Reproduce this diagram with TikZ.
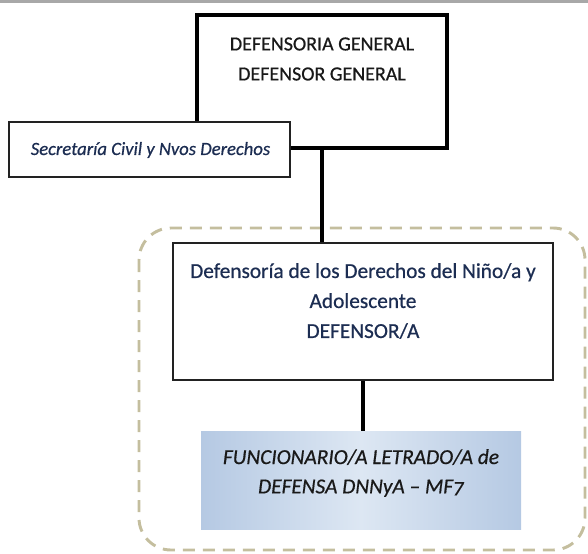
\documentclass[tikz,border=0pt]{standalone}
\usepackage{fontspec}
\setmainfont{Carlito}[FakeBold=0.6]
\definecolor{navy}{HTML}{1C2D52}
\definecolor{dashc}{HTML}{C4BE9E}
\definecolor{blueD}{HTML}{B5C9E3}
\definecolor{blueL}{HTML}{DDE7F3}
\definecolor{topline}{HTML}{A8A8A8}
\definecolor{edge}{HTML}{222222}
\begin{document}
\begin{tikzpicture}[x=0.75pt,y=-0.75pt,
  box/.style={draw=edge,fill=white,inner sep=0pt},
  txt/.style={align=center,inner sep=0pt},
  conn/.style={line width=2.4pt,black}]
\useasboundingbox (0,0) rectangle (588,553);
\fill[topline] (0,0) rectangle (588,2.5);
% dashed group
\draw[dashc,line width=2.2pt,dash pattern=on 9pt off 6pt,rounded corners=24pt] (139,228) rectangle (585,550);
% top box
\node[box,draw=black,line width=3pt,minimum width=187.5pt,minimum height=99.75pt] (top) at (322,81.5) {};
\node[txt,text=black!90,font=\fontsize{15}{22.5}\selectfont] (toptxt) at (322,59) {DEFENSORIA GENERAL\\DEFENSOR GENERAL};
% secretaria
\node[box,line width=1.5pt,minimum width=210.75pt,minimum height=41.25pt] (sec) at (149.5,149.5) {};
\node[txt,text=navy,font=\fontsize{14}{22.5}\selectfont\itshape] (sectxt) at (150.5,150) {Secretaría Civil y Nvos Derechos};
% defensoria
\node[box,line width=1.5pt,minimum width=285pt,minimum height=102.75pt] (def) at (363,311.5) {};
\node[txt,text=navy,font=\fontsize{16}{22.5}\selectfont] (deftxt) at (363,301) {Defensoría de los Derechos del Niño/a y\\Adolescente\\DEFENSOR/A};
% funcionario
\node[inner sep=0pt,minimum width=240pt,minimum height=73.5pt,left color=blueD,right color=blueD,middle color=blueL] (fun) at (361,480) {};
\node[txt,text=black!90,font=\fontsize{16}{22}\selectfont\itshape\addfontfeature{Numbers=OldStyle}] (funtxt) at (361,473) {FUNCIONARIO/A LETRADO/A de\\DEFENSA DNNyA – MF7};
% connectors
\draw[conn] (top.south) -- (top.south |- def.north);
\draw[conn] (def.south) -- (def.south |- fun.north);
\end{tikzpicture}
\end{document}
